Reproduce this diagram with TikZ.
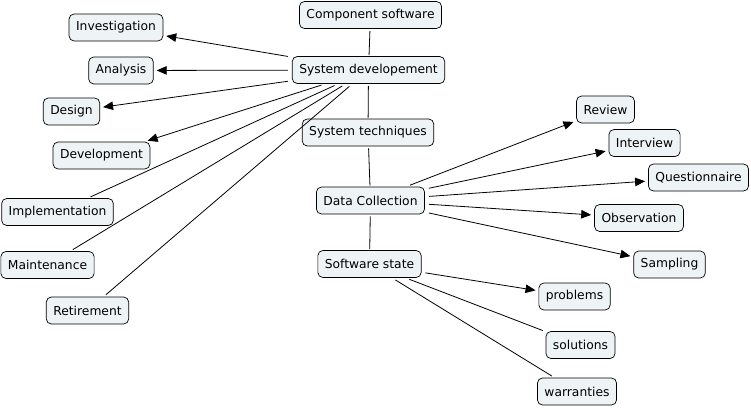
\documentclass[tikz,border=0pt]{standalone}
\usepackage{fontspec}
\setmainfont{DejaVu Sans}
\usetikzlibrary{arrows.meta}
\definecolor{boxfill}{RGB}{238,243,245}

\begin{document}
\begin{tikzpicture}[x=1pt,y=-1pt]
        \useasboundingbox (0,0) rectangle (751,407);

        \begin{scope}[every node/.style={draw, rounded corners=5pt, fill=boxfill, line width=0.7pt,
            minimum height=27pt, inner xsep=7pt, font=\fontsize{12.3}{14}\selectfont}]
          \node (1)  at (370.5,15)  {Component software};
          \node (2)  at (368.5,70)  {System developement};
          \node (3)  at (368,132.5) {System techniques};
          \node (4)  at (370.5,200.5) {Data Collection};
          \node (5)  at (369.5,264) {Software state};
          \node (6)  at (116,27.5)  {Investigation};
          \node (7)  at (121,70.5)  {Analysis};
          \node (8)  at (71.5,111.5) {Design};
          \node (9)  at (101.5,155.5) {Development};
          \node (10) at (57.5,212)  {Implementation};
          \node (11) at (47.5,265)  {Maintenance};
          \node (12) at (87.5,310.5) {Retirement};
          \node (13) at (605.5,109.5) {Review};
          \node (14) at (644.5,143) {Interview};
          \node (15) at (698.5,177.5) {Questionnaire};
          \node (16) at (639,218)   {Observation};
          \node (17) at (669.5,264.5) {Sampling};
          \node (18) at (574.5,296.5) {problems};
          \node (19) at (580.5,345) {solutions};
          \node (20) at (577,391.5) {warranties};
        \end{scope}

        \begin{scope}[line width=0.8pt, shorten <=4pt, shorten >=3pt]
          \begin{scope}[every edge/.style={draw, shorten <=2pt, shorten >=1pt}]
            \path (1)  edge (2);
            \path (2)  edge (3);
            \path (3)  edge (4);
            \path (4)  edge (5);
          \end{scope}
          \begin{scope}[every edge/.style={draw}]
            \path (2)  edge (10);
            \path (2)  edge (11);
            \path (2)  edge (12);
            \path (5)  edge (19);
            \path (5)  edge (20);
          \end{scope}
          \begin{scope}[every edge/.style={draw, -{Triangle[length=10pt,width=8.5pt]}}]
            \path (2)  edge (6);
            \path (2)  edge (7);
            \path (2)  edge (8);
            \path (2)  edge (9);
            \path (4)  edge (13);
            \path (4)  edge (14);
            \path (4)  edge (15);
            \path (4)  edge (16);
            \path (4)  edge (17);
            \path (5)  edge (18);
          \end{scope}
        \end{scope}

      \end{tikzpicture}
\end{document}
